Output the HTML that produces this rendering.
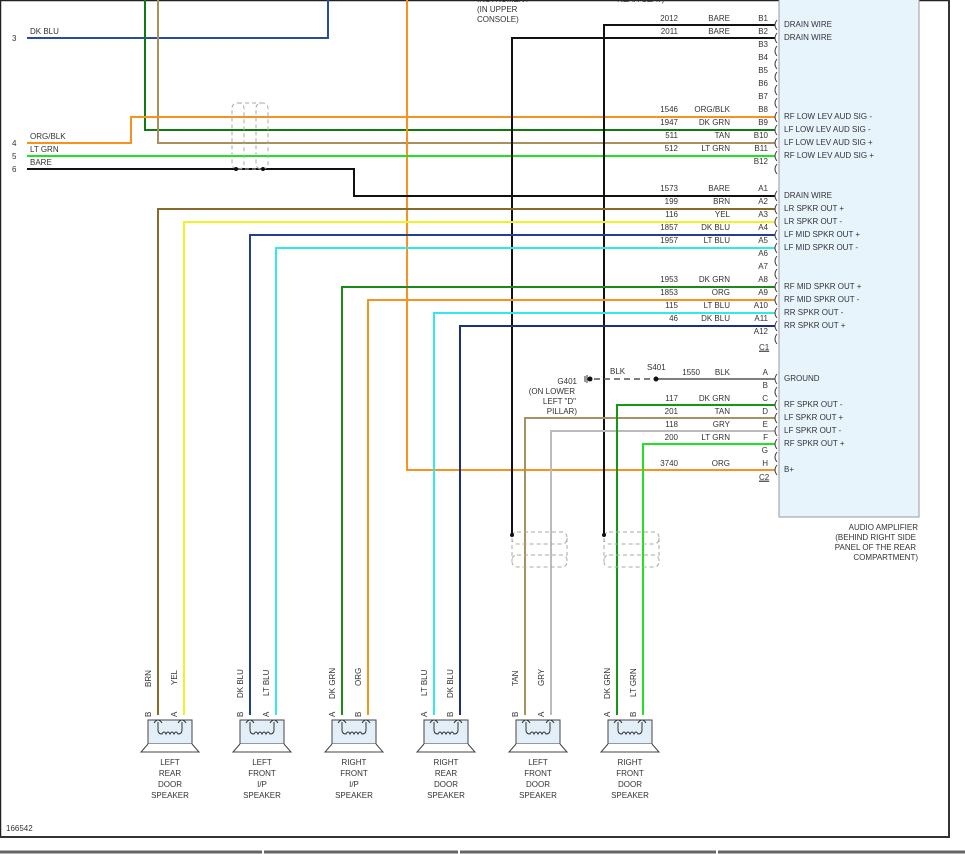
<!DOCTYPE html>
<html><head><meta charset="utf-8"><style>
html,body{margin:0;padding:0;background:#fff;}
svg{display:block;font-family:"Liberation Sans",sans-serif;}
text{font-size:8px;fill:#333;}
</style></head><body>
<svg width="965" height="854" viewBox="0 0 965 854" xmlns="http://www.w3.org/2000/svg">
<!-- frame -->
<rect x="0" y="0" width="965" height="854" fill="#fff"/>
<line x1="0.5" y1="0" x2="0.5" y2="838" stroke="#222" stroke-width="1.5"/>
<line x1="0" y1="0.5" x2="950" y2="0.5" stroke="#222" stroke-width="1.5"/>
<line x1="949" y1="0" x2="949" y2="838" stroke="#333" stroke-width="2"/>
<line x1="0" y1="837" x2="950" y2="837" stroke="#333" stroke-width="2"/>
<line x1="0" y1="852" x2="965" y2="852" stroke="#666" stroke-width="3"/>
<line x1="263" y1="850" x2="263" y2="854" stroke="#fff" stroke-width="2"/>
<line x1="459" y1="850" x2="459" y2="854" stroke="#fff" stroke-width="2"/>
<line x1="717" y1="850" x2="717" y2="854" stroke="#fff" stroke-width="2"/>
<text x="6" y="831" font-size="8">166542</text>

<!-- amplifier box -->
<rect x="779" y="-2" width="140" height="519" fill="#e8f4fc" stroke="#999" stroke-width="1"/>
<g text-anchor="end" fill="#333">
<text x="918" y="530">AUDIO AMPLIFIER</text>
<text x="916" y="540">(BEHIND RIGHT SIDE</text>
<text x="916" y="550">PANEL OF THE REAR</text>
<text x="918" y="560">COMPARTMENT)</text>
</g>
<text x="477" y="12">(IN UPPER</text>
<text x="477" y="22">CONSOLE)</text>
<text x="477" y="2">INSTRUMENT</text>
<text x="617" y="2">REAR SEAT)</text>

<!-- left wires -->
<text x="12" y="41">3</text><text x="30" y="34">DK BLU</text>
<text x="12" y="146">4</text><text x="30" y="139">ORG/BLK</text>
<text x="12" y="159">5</text><text x="30" y="152">LT GRN</text>
<text x="12" y="172">6</text><text x="30" y="165">BARE</text>

<g fill="none" stroke-width="2">
<polyline points="27,38 328,38 328,0" stroke="#2a4b9b"/>
<polyline points="145,0 145,130 775,130" stroke="#107a10"/>
<polyline points="158,0 158,143 775,143" stroke="#a89060"/>
<polyline points="407,0 407,470 775,470" stroke="#f7921e"/>
<polyline points="27,143 131,143 131,117 775,117" stroke="#f7921e"/>
<polyline points="27,156 775,156" stroke="#22e022"/>
<polyline points="27,169 354,169 354,196 775,196" stroke="#111"/>
<polyline points="604,535 604,25 775,25" stroke="#111"/>
<polyline points="512,535 512,38 775,38" stroke="#111"/>
<!-- speaker wires -->
<polyline points="158,715 158,209 775,209" stroke="#8a6a2a"/>
<polyline points="184,715 184,222 775,222" stroke="#f5f020"/>
<polyline points="250,715 250,235 775,235" stroke="#233f8f"/>
<polyline points="276,715 276,248 775,248" stroke="#33e8e8"/>
<polyline points="342,715 342,287 775,287" stroke="#1a8a1a"/>
<polyline points="368,715 368,300 775,300" stroke="#f7921e"/>
<polyline points="434,715 434,313 775,313" stroke="#33e8e8"/>
<polyline points="460,715 460,326 775,326" stroke="#1c2f80"/>
<polyline points="525,715 525,418 775,418" stroke="#a89060"/>
<polyline points="551,715 551,431 775,431" stroke="#bbb"/>
<polyline points="617,715 617,405 775,405" stroke="#119911"/>
<polyline points="643,715 643,444 775,444" stroke="#22e022"/>
<line x1="656" y1="379" x2="775" y2="379" stroke="#555" stroke-width="1.5"/>
<line x1="594" y1="379" x2="656" y2="379" stroke="#555" stroke-width="1.5" stroke-dasharray="6,4"/>
</g>
<!-- ground -->
<circle cx="590" cy="379" r="2.5" fill="#111"/>
<line x1="587" y1="375" x2="587" y2="383" stroke="#333"/>
<line x1="585" y1="376" x2="585" y2="382" stroke="#333"/>
<circle cx="656" cy="379" r="2.5" fill="#111"/>
<text x="610" y="374">BLK</text><text x="647" y="370">S401</text>
<g text-anchor="end">
<text x="577" y="384">G401</text>
<text x="575" y="394">(ON LOWER</text>
<text x="576" y="404">LEFT "D"</text>
<text x="577" y="414">PILLAR)</text>
</g>

<!-- shields -->
<g fill="none" stroke="#aaa" stroke-dasharray="4,3" stroke-width="1">
<rect x="232" y="103" width="12" height="66" rx="5"/>
<rect x="256" y="103" width="12" height="66" rx="5"/>
<line x1="238" y1="103" x2="262" y2="103"/><line x1="238" y1="169" x2="262" y2="169"/>
<rect x="512" y="532" width="55" height="12" rx="5"/><rect x="512" y="555" width="55" height="12" rx="5"/>
<line x1="512" y1="538" x2="512" y2="561"/><line x1="567" y1="538" x2="567" y2="561"/>
<rect x="604" y="532" width="55" height="12" rx="5"/><rect x="604" y="555" width="55" height="12" rx="5"/>
<line x1="604" y1="538" x2="604" y2="561"/><line x1="659" y1="538" x2="659" y2="561"/>
</g>
<circle cx="236" cy="169" r="2" fill="#111"/><circle cx="263" cy="169" r="2" fill="#111"/>
<circle cx="512" cy="535" r="2" fill="#111"/><circle cx="604" cy="535" r="2" fill="#111"/>

<!-- connector rows -->
<g id="rows">
<!-- B rows -->
<g text-anchor="end">
<text x="768" y="21">B1</text><text x="768" y="34">B2</text><text x="768" y="47">B3</text><text x="768" y="60">B4</text>
<text x="768" y="73">B5</text><text x="768" y="86">B6</text><text x="768" y="99">B7</text><text x="768" y="112">B8</text>
<text x="768" y="125">B9</text><text x="768" y="138">B10</text><text x="768" y="151">B11</text><text x="768" y="164">B12</text>
<text x="678" y="21">2012</text><text x="730" y="21">BARE</text>
<text x="678" y="34">2011</text><text x="730" y="34">BARE</text>
<text x="678" y="112">1546</text><text x="730" y="112">ORG/BLK</text>
<text x="678" y="125">1947</text><text x="730" y="125">DK GRN</text>
<text x="678" y="138">511</text><text x="730" y="138">TAN</text>
<text x="678" y="151">512</text><text x="730" y="151">LT GRN</text>
<!-- A rows -->
<text x="768" y="191">A1</text><text x="768" y="204">A2</text><text x="768" y="217">A3</text><text x="768" y="230">A4</text>
<text x="768" y="243">A5</text><text x="768" y="256">A6</text><text x="768" y="269">A7</text><text x="768" y="282">A8</text>
<text x="768" y="295">A9</text><text x="768" y="308">A10</text><text x="768" y="321">A11</text><text x="768" y="334">A12</text>
<text x="678" y="191">1573</text><text x="730" y="191">BARE</text>
<text x="678" y="204">199</text><text x="730" y="204">BRN</text>
<text x="678" y="217">116</text><text x="730" y="217">YEL</text>
<text x="678" y="230">1857</text><text x="730" y="230">DK BLU</text>
<text x="678" y="243">1957</text><text x="730" y="243">LT BLU</text>
<text x="678" y="282">1953</text><text x="730" y="282">DK GRN</text>
<text x="678" y="295">1853</text><text x="730" y="295">ORG</text>
<text x="678" y="308">115</text><text x="730" y="308">LT BLU</text>
<text x="678" y="321">46</text><text x="730" y="321">DK BLU</text>
<!-- C2 rows -->
<text x="768" y="375">A</text><text x="768" y="388">B</text><text x="768" y="401">C</text><text x="768" y="414">D</text>
<text x="768" y="427">E</text><text x="768" y="440">F</text><text x="768" y="453">G</text><text x="768" y="466">H</text>
<text x="700" y="375">1550</text><text x="730" y="375">BLK</text>
<text x="678" y="401">117</text><text x="730" y="401">DK GRN</text>
<text x="678" y="414">201</text><text x="730" y="414">TAN</text>
<text x="678" y="427">118</text><text x="730" y="427">GRY</text>
<text x="678" y="440">200</text><text x="730" y="440">LT GRN</text>
<text x="678" y="466">3740</text><text x="730" y="466">ORG</text>
</g>
<text x="759" y="350" text-decoration="underline">C1</text>
<text x="759" y="480" text-decoration="underline">C2</text>
<line x1="759" y1="351" x2="769" y2="351" stroke="#333" stroke-width="0.7"/>
<line x1="759" y1="481" x2="769" y2="481" stroke="#333" stroke-width="0.7"/>
<!-- pin arcs -->
<g fill="none" stroke="#444" stroke-width="1">
<path d="M777,20 q-4,5 0,10"/><path d="M777,33 q-4,5 0,10"/><path d="M777,46 q-4,5 0,10"/><path d="M777,59 q-4,5 0,10"/>
<path d="M777,72 q-4,5 0,10"/><path d="M777,85 q-4,5 0,10"/><path d="M777,98 q-4,5 0,10"/><path d="M777,112 q-4,5 0,10"/>
<path d="M777,125 q-4,5 0,10"/><path d="M777,138 q-4,5 0,10"/><path d="M777,151 q-4,5 0,10"/><path d="M777,164 q-4,5 0,10"/>
<path d="M777,191 q-4,5 0,10"/><path d="M777,204 q-4,5 0,10"/><path d="M777,217 q-4,5 0,10"/><path d="M777,230 q-4,5 0,10"/>
<path d="M777,243 q-4,5 0,10"/><path d="M777,256 q-4,5 0,10"/><path d="M777,269 q-4,5 0,10"/><path d="M777,282 q-4,5 0,10"/>
<path d="M777,295 q-4,5 0,10"/><path d="M777,308 q-4,5 0,10"/><path d="M777,321 q-4,5 0,10"/><path d="M777,334 q-4,5 0,10"/>
<path d="M777,374 q-4,5 0,10"/><path d="M777,387 q-4,5 0,10"/><path d="M777,400 q-4,5 0,10"/><path d="M777,413 q-4,5 0,10"/>
<path d="M777,426 q-4,5 0,10"/><path d="M777,439 q-4,5 0,10"/><path d="M777,452 q-4,5 0,10"/><path d="M777,465 q-4,5 0,10"/>
</g>
<!-- function labels -->
<g>
<text x="784" y="27">DRAIN WIRE</text><text x="784" y="40">DRAIN WIRE</text>
<text x="784" y="119">RF LOW LEV AUD SIG -</text><text x="784" y="132">LF LOW LEV AUD SIG -</text>
<text x="784" y="145">LF LOW LEV AUD SIG +</text><text x="784" y="158">RF LOW LEV AUD SIG +</text>
<text x="784" y="198">DRAIN WIRE</text><text x="784" y="211">LR SPKR OUT +</text>
<text x="784" y="224">LR SPKR OUT -</text><text x="784" y="237">LF MID SPKR OUT +</text>
<text x="784" y="250">LF MID SPKR OUT -</text>
<text x="784" y="289">RF MID SPKR OUT +</text><text x="784" y="302">RF MID SPKR OUT -</text>
<text x="784" y="315">RR SPKR OUT -</text><text x="784" y="328">RR SPKR OUT +</text>
<text x="784" y="381">GROUND</text>
<text x="784" y="407">RF SPKR OUT -</text><text x="784" y="420">LF SPKR OUT +</text>
<text x="784" y="433">LF SPKR OUT -</text><text x="784" y="446">RF SPKR OUT +</text>
<text x="784" y="472">B+</text>
</g>
</g>

<!-- speakers -->
<defs>
<g id="spk">
<rect x="0" y="0" width="44" height="24" fill="#e2eef8" stroke="#444" stroke-width="1"/>
<polyline points="0,24 -7,32 51,32 44,24" fill="#fff" stroke="#444" stroke-width="1"/>
<path d="M10,2 v8 q0,4 4,4 q2,-4 4,0 q2,-4 4,0 q2,-4 4,0 q2,-4 4,0 q4,0 4,-4 v-8" fill="none" stroke="#333" stroke-width="1"/>
<path d="M6,3 q4,-6 8,0 M30,3 q4,-6 8,0" fill="none" stroke="#333" stroke-width="1"/>
</g>
</defs>
<use href="#spk" x="148" y="720"/>
<use href="#spk" x="240" y="720"/>
<use href="#spk" x="332" y="720"/>
<use href="#spk" x="424" y="720"/>
<use href="#spk" x="516" y="720"/>
<use href="#spk" x="608" y="720"/>

<g font-size="8">
<text transform="translate(151,687) rotate(-90)">BRN</text>
<text transform="translate(177,685) rotate(-90)">YEL</text>
<text transform="translate(243,698) rotate(-90)">DK BLU</text>
<text transform="translate(269,696) rotate(-90)">LT BLU</text>
<text transform="translate(335,699) rotate(-90)">DK GRN</text>
<text transform="translate(361,686) rotate(-90)">ORG</text>
<text transform="translate(427,696) rotate(-90)">LT BLU</text>
<text transform="translate(453,698) rotate(-90)">DK BLU</text>
<text transform="translate(518,686) rotate(-90)">TAN</text>
<text transform="translate(544,686) rotate(-90)">GRY</text>
<text transform="translate(610,699) rotate(-90)">DK GRN</text>
<text transform="translate(636,697) rotate(-90)">LT GRN</text>
<text transform="translate(151,717) rotate(-90)">B</text>
<text transform="translate(177,717) rotate(-90)">A</text>
<text transform="translate(243,717) rotate(-90)">B</text>
<text transform="translate(269,717) rotate(-90)">A</text>
<text transform="translate(335,717) rotate(-90)">A</text>
<text transform="translate(361,717) rotate(-90)">B</text>
<text transform="translate(427,717) rotate(-90)">A</text>
<text transform="translate(453,717) rotate(-90)">B</text>
<text transform="translate(518,717) rotate(-90)">B</text>
<text transform="translate(544,717) rotate(-90)">A</text>
<text transform="translate(610,717) rotate(-90)">A</text>
<text transform="translate(636,717) rotate(-90)">B</text>
</g>
<g text-anchor="middle">
<text x="170" y="765">LEFT</text><text x="170" y="776">REAR</text><text x="170" y="787">DOOR</text><text x="170" y="798">SPEAKER</text>
<text x="262" y="765">LEFT</text><text x="262" y="776">FRONT</text><text x="262" y="787">I/P</text><text x="262" y="798">SPEAKER</text>
<text x="354" y="765">RIGHT</text><text x="354" y="776">FRONT</text><text x="354" y="787">I/P</text><text x="354" y="798">SPEAKER</text>
<text x="446" y="765">RIGHT</text><text x="446" y="776">REAR</text><text x="446" y="787">DOOR</text><text x="446" y="798">SPEAKER</text>
<text x="538" y="765">LEFT</text><text x="538" y="776">FRONT</text><text x="538" y="787">DOOR</text><text x="538" y="798">SPEAKER</text>
<text x="630" y="765">RIGHT</text><text x="630" y="776">FRONT</text><text x="630" y="787">DOOR</text><text x="630" y="798">SPEAKER</text>
</g>
</svg>
</body></html>
